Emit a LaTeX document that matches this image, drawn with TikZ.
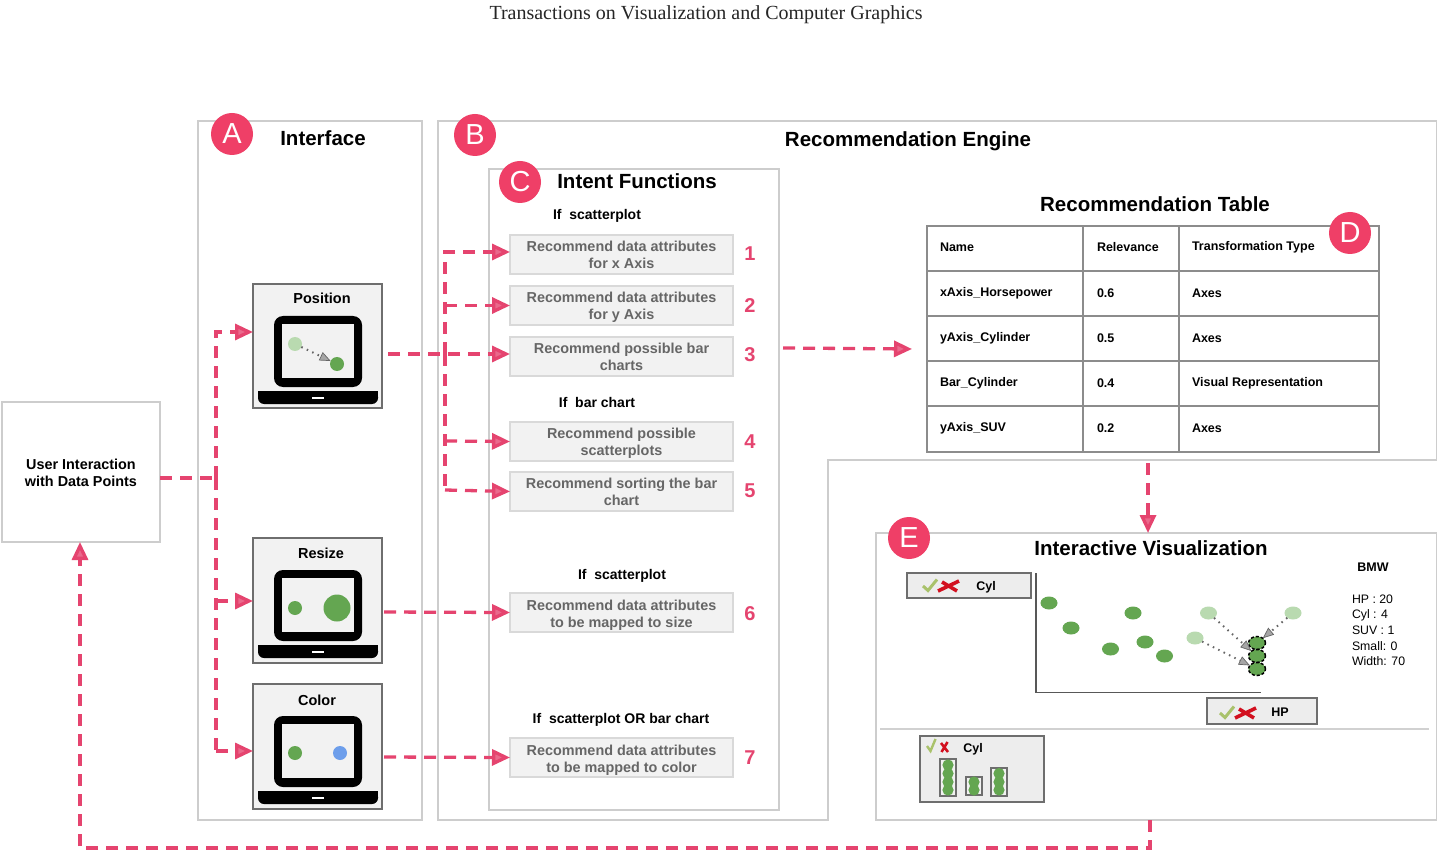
\documentclass[tikz,border=0pt]{standalone}
\usepackage{fontspec}
\setmainfont{Liberation Sans}
\newfontfamily\serifhead{Liberation Serif}
\usetikzlibrary{arrows.meta,calc,shapes.geometric}
\definecolor{pinkc}{HTML}{E5446F}
\definecolor{badge}{HTML}{EF3F67}
\definecolor{panel}{HTML}{CDCDCD}
\definecolor{darkg}{HTML}{64A651}
\definecolor{lightg}{HTML}{B9DAB0}
\definecolor{frameg}{HTML}{6E6E6E}
\definecolor{blued}{HTML}{6D9EEB}
\definecolor{checkg}{HTML}{A9C26B}
\definecolor{redx}{HTML}{D2101F}
\tikzset{
  x=1pt,y=-1pt,
  px/.style={inner sep=0pt,outer sep=0pt},
  panelbox/.style={px,draw=panel,line width=1.5pt,fill=white},
  title/.style={px,font=\fontsize{20.5}{25}\selectfont\bfseries,text=black},
  badgec/.style={px,circle,fill=badge,text=white,font=\fontsize{29}{29}\selectfont,minimum size=42pt},
  intent/.style={px,draw=black!15,line width=1.2pt,fill=black!5},
  intenttext/.style={px,align=center,text=black!60,font=\fontsize{14.4}{16.8}\selectfont\bfseries},
  cond/.style={px,font=\fontsize{14}{16}\selectfont\bfseries},
  num/.style={px,text=pinkc,font=\fontsize{20}{22}\selectfont\bfseries},
  flow/.style={draw=pinkc,line width=3.3pt,dash pattern=on 12pt off 8pt},
  flowa/.style={flow,-{Triangle[length=18pt,width=16pt,fill=pinkc!80!white]}},
  appframe/.style={px,draw=frameg,line width=1.6pt,fill=black!5},
  apptitle/.style={px,font=\fontsize{14.5}{16}\selectfont\bfseries},
  dot/.style={px,circle,fill=darkg,minimum size=14pt},
  ldot/.style={px,circle,fill=lightg,minimum size=14pt},
  pt/.style={px,ellipse,fill=darkg,minimum width=17pt,minimum height=13pt},
  lpt/.style={px,ellipse,fill=lightg,minimum width=17pt,minimum height=13pt},
  spt/.style={pt,draw=black,line width=1.5pt,dash pattern=on 3pt off 2pt},
  drag/.style={draw=black!60,line width=2pt,dash pattern=on 1.5pt off 4.5pt,-{Triangle[length=11pt,width=9pt,fill=black!35,color=black!60,line width=.7pt]}},
  tcell/.style={px,font=\fontsize{12.5}{14}\selectfont\bfseries,anchor=west},
  ctrl/.style={px,draw=frameg,line width=1.6pt,fill=black!7},
  ctrltext/.style={px,font=\fontsize{12.5}{14}\selectfont\bfseries},
  attr/.style={px,font=\fontsize{12.3}{14}\selectfont,anchor=west},
  barbox/.style={draw=frameg,line width=1.4pt,fill=black!5},
}
\newcommand{\pxbox}[7]{\node[#6,minimum width={(#4-#2)*1pt},minimum height={(#5-#3)*1pt}] (#1) at ({(#2+#4)/2},{(#3+#5)/2}) {#7};}
\newcommand{\intentbox}[5]{%
  \pxbox{#1}{510}{#2}{733}{#3}{intent}{}
  \node[intenttext] (#1t) at ([yshift=-#4pt]#1.center) {#5};}
\newcommand{\applaptop}[3]{%
  \pxbox{#1}{253}{#2}{382}{#3}{appframe}{}
  \begin{scope}[shift={(253,#2)}]
    \fill[black,rounded corners=9pt] (21,32) rectangle (109,103);
    \fill[black!5] (29,40) rectangle (101,94);
    \fill[black,rounded corners=6pt] (5,107) -- (125,107) -- (125,120) -- (5,120) -- cycle;
    \fill[black] (5,107) rectangle (125,113);
    \fill[white] (59,112.5) rectangle (71,114.5);
  \end{scope}}
\newcommand{\okno}[3]{%
  \draw[checkg,line width=3pt] (#1,#2+2) -- ++(5,4.5) -- ++(9,-11);
  \draw[redx,line width=3.6pt] (#1+15,#2+7) -- ++(#3+3,-10) (#1+19,#2-2) -- ++(#3-3,9);}
\begin{document}
\begin{tikzpicture}
\useasboundingbox (0,0) rectangle (1437,858);
\fill[white] (0,0) rectangle (1437,858);
\node[px,font=\fontsize{20}{22}\selectfont\serifhead,text=black!85] (head) at (706,14.5) {Transactions on Visualization and Computer Graphics};

% panels
\pxbox{iface}{198}{121}{422}{820}{panelbox}{}
\draw[panel,line width=1.5pt] (438,820) -- (438,121) -- (1437,121) -- (1437,460) -- (828,460) -- (828,820) -- cycle;
\pxbox{ifunc}{489}{169}{779}{810}{panelbox}{}
\pxbox{ebox}{876}{533}{1437}{820}{panelbox}{}

\node[title] (tiface) at (323,138) {Interface};
\node[title] (tengine) at (908,141) {Recommendation Engine};
\node[title] (tfunc) at (637,181) {Intent Functions};
\node[title] (ttable) at (1155,204) {Recommendation Table};
\node[title] (tvis) at (1151,548) {Interactive Visualization};

% user
\pxbox{user}{2}{402}{160}{542}{px,draw=panel,line width=1.5pt,fill=white}{}
\node[px,align=center,font=\fontsize{14.4}{17}\selectfont\bfseries] (tuser) at ([yshift=-1pt]user.center) {User Interaction\\with Data Points};

% laptops
\applaptop{position}{284}{408}
\applaptop{resize}{538}{663}
\applaptop{colorb}{684}{809}
\node[apptitle] (tpos) at (322,298) {Position};
\node[apptitle] (tres) at (321,553) {Resize};
\node[apptitle] (tcol) at (317,700) {Color};
\node[ldot] (p1) at (295,344) {};
\node[dot] (p2) at (337,364) {};
\draw[drag] (p1) -- (p2);
\node[dot] (r1) at (295,608) {};
\node[dot,minimum size=27pt] (r2) at (337,608) {};
\node[dot] (c1) at (295,753) {};
\node[dot,fill=blued] (c2) at (340,753) {};

% intent boxes
\intentbox{b1}{235}{274}{0}{Recommend data attributes\\for x Axis}
\intentbox{b2}{286}{325}{1.5}{Recommend data attributes\\for y Axis}
\intentbox{b3}{337}{376}{0}{Recommend possible bar\\charts}
\intentbox{b4}{422}{461}{2}{Recommend possible\\scatterplots}
\intentbox{b5}{472}{511}{0}{Recommend sorting the bar\\chart}
\intentbox{b6}{593}{632}{2.5}{Recommend data attributes\\to be mapped to size}
\intentbox{b7}{738}{777}{2.5}{Recommend data attributes\\to be mapped to color}
\node[cond] (c_a) at (597,216) {If\ \ scatterplot};
\node[cond] (c_b) at (597,402) {If\ \ bar chart};
\node[cond] (c_c) at (622,576) {If\ \ scatterplot};
\node[cond] (c_d) at (621,719.5) {If\ \ scatterplot OR bar chart};
\node[num] (n1) at (750,254) {1};
\node[num] (n2) at (750,306) {2};
\node[num] (n3) at (750,355) {3};
\node[num] (n4) at (750,442) {4};
\node[num] (n5) at (750,491) {5};
\node[num] (n6) at (750,614) {6};
\node[num] (n7) at (750,758) {7};

% table
\pxbox{table}{927}{226}{1379}{452}{px,draw=black!45,line width=1.6pt,fill=white}{}
\draw[black!45,line width=1.6pt] (1083,226) -- (1083,452) (1179,226) -- (1179,452)
  (927,271) -- (1379,271) (927,316) -- (1379,316) (927,361) -- (1379,361) (927,406) -- (1379,406);
\node[tcell] (h1) at (940,247) {Name};
\node[tcell] (h2) at (1097,247) {Relevance};
\node[tcell] (h3) at (1192,247) {Transformation Type};
\node[tcell] (t11) at (940,293) {xAxis\_Horsepower};
\node[tcell] (t12) at (1097,293) {0.6};
\node[tcell] (t13) at (1192,293) {Axes};
\node[tcell] (t21) at (940,338) {yAxis\_Cylinder};
\node[tcell] (t22) at (1097,338) {0.5};
\node[tcell] (t23) at (1192,338) {Axes};
\node[tcell] (t31) at (940,383) {Bar\_Cylinder};
\node[tcell] (t32) at (1097,383) {0.4};
\node[tcell] (t33) at (1192,383) {Visual Representation};
\node[tcell] (t41) at (940,428) {yAxis\_SUV};
\node[tcell] (t42) at (1097,428) {0.2};
\node[tcell] (t43) at (1192,428) {Axes};

% badges
\node[badgec] (A) at (232,134) {A};
\node[badgec] (B) at (475,135) {B};
\node[badgec] (C) at (520,182) {C};
\node[badgec] (D) at (1350,233) {D};
\node[badgec] (E) at (909,538) {E};

% visualization
\pxbox{cylx}{907}{573}{1031}{598}{ctrl}{}
\okno{923}{584}{18}
\node[ctrltext] (tcylx) at (986,587) {Cyl};
\draw[frameg!80!black,line width=1.8pt] (1036,573) -- (1036,692.5) -- (1261,692.5);
\node[pt] (s1) at (1049,603) {};
\node[pt] (s2) at (1071,628) {};
\node[pt] (s3) at (1110.5,649) {};
\node[pt] (s4) at (1133,613) {};
\node[pt] (s5) at (1145,642) {};
\node[pt] (s6) at (1164.5,656) {};
\node[lpt] (l1) at (1208.5,613) {};
\node[lpt] (l2) at (1195,638) {};
\node[lpt] (l3) at (1293,613) {};
\node[spt] (m1) at (1257,643) {};
\node[spt] (m2) at (1257,656) {};
\node[spt] (m3) at (1257,669) {};
\draw[drag] (l1) -- (m2);
\draw[drag] (l2) -- (m3);
\draw[drag] (l3) -- (m1);
\pxbox{hpx}{1207}{698}{1317}{724}{ctrl}{}
\okno{1220}{711}{18}
\node[ctrltext] (thp) at (1280,712.5) {HP};
\node[px,font=\fontsize{12.5}{14}\selectfont\bfseries] (bmw) at (1373,567) {BMW};
\node[attr] (a1) at (1352,599.5) {HP : 20};
\node[attr] (a2) at (1352,615) {Cyl : 4};
\node[attr] (a3) at (1352,630.5) {SUV : 1};
\node[attr] (a4) at (1352,646) {Small: 0};
\node[attr] (a5) at (1352,661.5) {Width: 70};
\draw[black!18,line width=1.4pt] (880,729) -- (1429,729);
\pxbox{barx}{920}{736}{1044}{802}{ctrl}{}
\draw[checkg,line width=2.4pt] (927,746) -- ++(3.5,5) -- ++(5,-12);
\draw[redx,line width=2.6pt] (941,743) -- ++(7,9) (947.5,742) -- ++(-6,10);
\node[ctrltext] (tbar) at (973,749) {Cyl};
\draw[barbox] (940,759) rectangle (956,796);
\draw[barbox] (966,777) rectangle (982,795);
\draw[barbox] (991,768) rectangle (1007,796);
\foreach \y in {765,773.5,782,790} \fill[darkg] (948,\y) circle[radius=5.6];
\foreach \y in {782,790} \fill[darkg] (974,\y) circle[radius=5.6];
\foreach \y in {773.5,782,790} \fill[darkg] (999,\y) circle[radius=5.6];

% connectors
\coordinate (j1) at (216,478);
\coordinate (j2) at (445,354);
\coordinate (top1) at (216,332);
\coordinate (top2) at (445,252);
\draw[flow] (user.east |- j1) -- (j1);
\draw[flowa] (j1) -- (top1) -- (position.west |- top1);
\draw[flow] (j1) -- (216,751);
\draw[flowa] (216,601) -- (resize.west |- 0,601);
\draw[flowa] (216,751) -- (colorb.west |- 0,751);
\coordinate (pout) at (388,354);
\draw[flowa] (pout) -- (b3.west |- pout);
\draw[flowa] (j2) -- (top2) -- (b1.west |- top2);
\draw[flowa] (j2 |- b2.west) -- (b2.west);
\draw[flow] (j2) -- (445,490);
\draw[flowa] (445,441) -- (b4.west);
\draw[flowa] (445,490) -- (b5.west);
\coordinate (rout) at (384,612);
\coordinate (cout) at (384,757);
\draw[flowa] (rout) -- (b6.west);
\draw[flowa] (cout) -- (b7.west);
\coordinate (tin) at (912,349);
\draw[flowa] (783,348) -- (tin);
\coordinate (tout) at (1148,452);
\draw[flowa] (1148,463) -- (ebox.north -| tout);
\coordinate (eout) at (1150,820);
\coordinate (ucorner) at (80,848);
\draw[flowa] (eout) -- (1150,848) -- (ucorner) -- (user.south -| ucorner);
\end{tikzpicture}
\end{document}
